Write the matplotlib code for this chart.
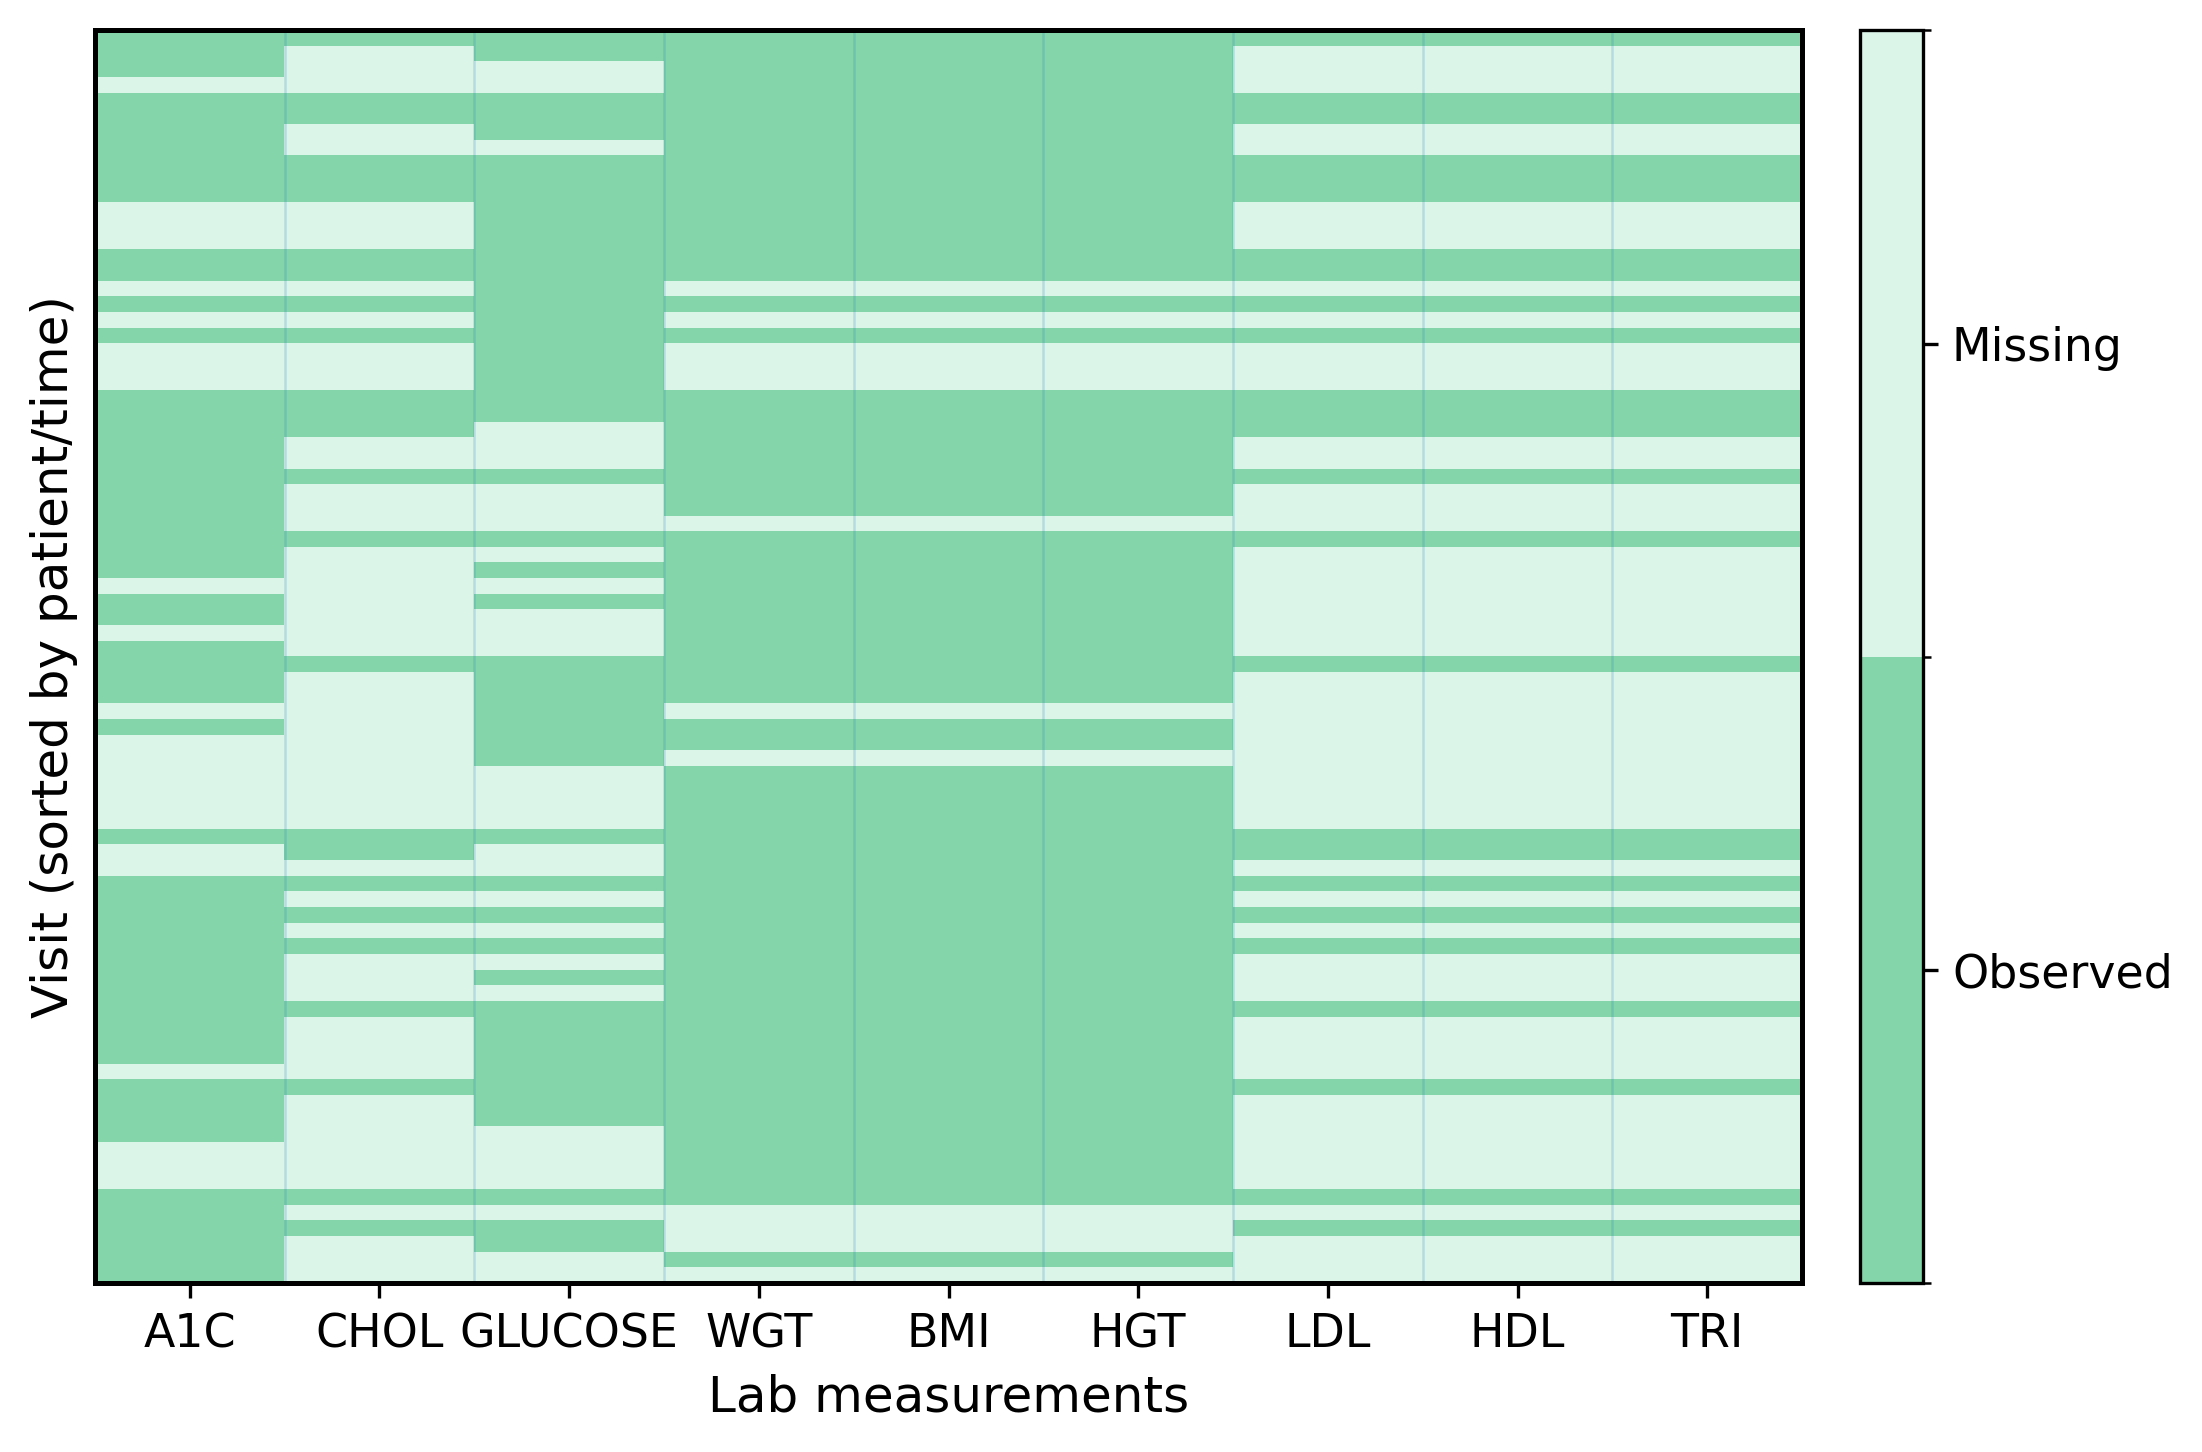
import numpy as np
import matplotlib
matplotlib.use("Agg")
import matplotlib.pyplot as plt
from matplotlib.colors import ListedColormap

# 1 = missing, 0 = observed ; 80 visits (top to bottom)
labs = ["A1C", "CHOL", "GLUCOSE", "WGT", "BMI", "HGT", "LDL", "HDL", "TRI"]

a1c = ("0001000000" "0111001010" "1110000000" "0000010010"
       "0001011111" "1011000000" "0000001000" "0111000000")
chol = ("0111001100" "0111001010" "1110001101" "1101111111"
        "0111111111" "1001010101" "1101111011" "1111010111")
glucose = ("0011000100" "0000000000" "0000011101" "1101010111"
           "0000000111" "1011010101" "0100000000" "1111010011")
wgt = ("0000000000" "0000001010" "1110000000" "0100000000"
       "0001001000" "0000000000" "0000000000" "0000011101")
bmi = wgt
hgt = wgt
ldl = chol
hdl = chol
tri = chol

columns = [a1c, chol, glucose, wgt, bmi, hgt, ldl, hdl, tri]
matrix = np.array([[int(c) for c in col] for col in columns]).T

obs_color = "#84D6AA"
miss_color = "#DCF5E9"
cmap = ListedColormap([obs_color, miss_color])

fig = plt.figure(figsize=(2202 / 300, 1452 / 300), dpi=300)
ax = fig.add_axes([0.0431, 0.1164, 0.7753, 0.8627])
cax = fig.add_axes([0.8447, 0.1164, 0.0285, 0.8627])

im = ax.imshow(matrix, aspect="auto", cmap=cmap, vmin=0, vmax=1,
               interpolation="nearest")
for i in range(1, len(labs)):
    ax.axvline(i - 0.5, color="#1f77b4", alpha=0.2, lw=0.6)

ax.set_xticks(range(len(labs)))
ax.set_xticklabels(labs, fontsize=11)
ax.set_yticks([])
ax.set_xlabel("Lab measurements", fontsize=12)
ax.set_ylabel("Visit (sorted by patient/time)", fontsize=12)
for s in ax.spines.values():
    s.set_linewidth(1.2)

cb = fig.colorbar(im, cax=cax)
cb.set_ticks([0.25, 0.75])
cb.set_ticklabels(["Observed", "Missing"])
cb.ax.tick_params(labelsize=11)
cb.ax.yaxis.set_ticks([0, 0.5, 1], minor=True)
cb.outline.set_linewidth(0.8)

fig.savefig("out.png", dpi=300)
